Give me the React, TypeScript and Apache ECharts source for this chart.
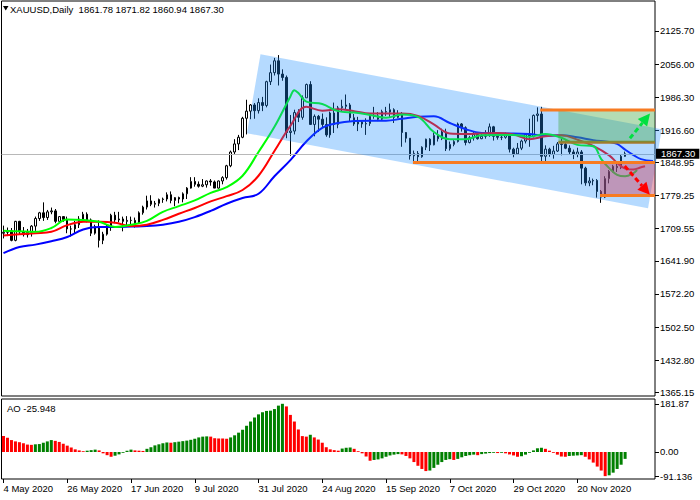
import { useEffect, useRef } from "react";
import * as echarts from "echarts";

// XAUUSD daily, 4 May 2020 .. 8 Dec 2020 (one entry per weekday)
const opens = [
  1700, 1702, 1705, 1685, 1725, 1703, 1697, 1702, 1715, 1731, 1743, 1733, 1745, 1747, 1725, 1735, 1729, 1709, 1709, 1718,
  1730, 1740, 1728, 1700, 1714, 1685, 1698, 1715, 1738, 1728, 1730, 1725, 1727, 1727, 1722, 1743, 1755, 1768, 1761, 1763,
  1771, 1772, 1781, 1769, 1775, 1772, 1783, 1795, 1809, 1803, 1799, 1802, 1810, 1808, 1795, 1810, 1817, 1842, 1871, 1888,
  1902, 1942, 1957, 1970, 1958, 1975, 1969, 2019, 2038, 2063, 2035, 2028, 1912, 1915, 1954, 1944, 1985, 2013, 1929, 1946,
  1940, 1929, 1907, 1953, 1929, 1964, 1967, 1970, 1943, 1930, 1934, 1930, 1931, 1946, 1947, 1940, 1956, 1955, 1960, 1944,
  1950, 1912, 1900, 1863, 1868, 1861, 1881, 1898, 1886, 1906, 1899, 1913, 1878, 1887, 1893, 1930, 1922, 1891, 1901, 1908,
  1899, 1904, 1907, 1924, 1904, 1902, 1902, 1907, 1877, 1867, 1879, 1894, 1908, 1903, 1948, 1951, 1862, 1877, 1866, 1873,
  1888, 1887, 1879, 1871, 1866, 1871, 1837, 1806, 1810, 1811, 1788, 1776, 1815, 1830, 1841, 1838, 1861.78,
];
const highs = [
  1716, 1712, 1711, 1726, 1726, 1713, 1709, 1717, 1735, 1745, 1765, 1749, 1754, 1751, 1736, 1736, 1735, 1716, 1726, 1736,
  1745, 1744, 1731, 1718, 1727, 1703, 1718, 1741, 1745, 1745, 1735, 1736, 1735, 1733, 1746, 1758, 1779, 1780, 1768, 1773,
  1775, 1786, 1788, 1776, 1777, 1786, 1797, 1818, 1818, 1809, 1814, 1811, 1814, 1811, 1811, 1820, 1844, 1874, 1898, 1907,
  1945, 1981, 1972, 1974, 1984, 1987, 2021, 2055, 2069, 2075, 2045, 2032, 1949, 1960, 1961, 1990, 2015, 2020, 1950, 1949,
  1952, 1944, 1956, 1975, 1968, 1981, 1992, 1974, 1951, 1945, 1937, 1942, 1952, 1966, 1955, 1960, 1966, 1973, 1963, 1959,
  1955, 1913, 1900, 1874, 1873, 1883, 1899, 1900, 1912, 1917, 1920, 1920, 1893, 1896, 1933, 1932, 1925, 1905, 1913, 1912,
  1912, 1917, 1931, 1926, 1913, 1909, 1912, 1911, 1880, 1890, 1897, 1910, 1941, 1950, 1965, 1966, 1885, 1880, 1884, 1892,
  1899, 1895, 1885, 1876, 1880, 1875, 1840, 1818, 1815, 1814, 1791, 1820, 1833, 1844, 1848, 1866, 1871.82,
];
const lows = [
  1689, 1694, 1683, 1683, 1698, 1693, 1691, 1693, 1705, 1726, 1726, 1728, 1740, 1721, 1723, 1724, 1700, 1693, 1699, 1711,
  1726, 1723, 1694, 1697, 1670, 1677, 1695, 1705, 1721, 1723, 1704, 1713, 1719, 1712, 1720, 1739, 1750, 1757, 1754, 1757,
  1764, 1767, 1763, 1757, 1763, 1765, 1772, 1794, 1798, 1796, 1797, 1796, 1800, 1795, 1794, 1803, 1813, 1839, 1866, 1875,
  1900, 1908, 1940, 1941, 1952, 1957, 1965, 2012, 2032, 2011, 2021, 1900, 1863, 1908, 1934, 1939, 1985, 1928, 1904, 1913,
  1922, 1903, 1901, 1911, 1921, 1956, 1961, 1936, 1926, 1915, 1922, 1907, 1926, 1941, 1936, 1938, 1947, 1945, 1932, 1942,
  1882, 1891, 1855, 1848, 1849, 1859, 1875, 1873, 1885, 1893, 1896, 1873, 1874, 1883, 1891, 1914, 1885, 1889, 1895, 1897,
  1898, 1899, 1903, 1895, 1897, 1896, 1899, 1870, 1860, 1866, 1875, 1889, 1882, 1902, 1935, 1850, 1850, 1861, 1857, 1871,
  1864, 1877, 1865, 1856, 1860, 1803, 1800, 1799, 1801, 1775, 1764, 1774, 1805, 1828, 1829, 1835, 1860.94,
];
const closes = [
  1702, 1705, 1685, 1725, 1703, 1697, 1702, 1715, 1731, 1743, 1733, 1745, 1747, 1725, 1735, 1729, 1709, 1709, 1718, 1730,
  1740, 1728, 1700, 1714, 1685, 1698, 1715, 1738, 1728, 1730, 1725, 1727, 1727, 1722, 1743, 1755, 1768, 1761, 1763, 1771,
  1772, 1781, 1769, 1775, 1772, 1783, 1795, 1809, 1803, 1799, 1802, 1810, 1808, 1795, 1810, 1817, 1842, 1871, 1888, 1902,
  1942, 1957, 1970, 1958, 1975, 1969, 2019, 2038, 2063, 2035, 2028, 1912, 1915, 1954, 1944, 1985, 2013, 1929, 1946, 1940,
  1929, 1907, 1953, 1929, 1964, 1967, 1970, 1943, 1930, 1934, 1930, 1931, 1946, 1947, 1940, 1956, 1955, 1960, 1944, 1950,
  1912, 1900, 1863, 1868, 1861, 1881, 1898, 1886, 1906, 1899, 1913, 1878, 1887, 1893, 1930, 1922, 1891, 1901, 1908, 1899,
  1904, 1907, 1924, 1904, 1902, 1902, 1907, 1877, 1867, 1879, 1894, 1908, 1903, 1948, 1951, 1862, 1877, 1866, 1873, 1888,
  1887, 1879, 1871, 1866, 1871, 1837, 1806, 1810, 1811, 1788, 1776, 1815, 1830, 1841, 1838, 1862, 1867.3,
];

// Alligator lines, read as [bar index, price]
const jaw = [
  [0, 1658], [4, 1671], [8, 1676], [12, 1683], [16, 1692], [20, 1708], [24, 1713], [28, 1713], [32, 1714], [36, 1715],
  [40, 1718], [44, 1724], [48, 1734], [52, 1747], [56, 1762], [60, 1774], [64, 1783], [68, 1820], [72, 1854], [76, 1893],
  [80, 1922], [84, 1932], [88, 1936], [92, 1937], [96, 1937], [100, 1941], [104, 1945], [108, 1946], [112, 1932], [116, 1919],
  [120, 1911], [124, 1910], [128, 1910], [132, 1909], [136, 1905], [140, 1906], [144, 1902], [148, 1896], [152, 1892],
  [154, 1888], [156, 1876], [158, 1865], [160, 1856], [163, 1852],
];
const teeth = [
  [0, 1695], [4, 1698], [8, 1700], [12, 1703], [16, 1717], [20, 1724], [24, 1724], [28, 1722], [32, 1715], [36, 1718],
  [40, 1728], [44, 1741], [48, 1753], [52, 1767], [56, 1778], [60, 1791], [64, 1821], [68, 1873], [72, 1926], [76, 1966],
  [80, 1958], [84, 1961], [88, 1957], [92, 1952], [96, 1952], [100, 1952], [104, 1947], [108, 1929], [112, 1910], [116, 1909],
  [120, 1910], [124, 1911], [128, 1908], [132, 1898], [136, 1904], [140, 1906], [144, 1897], [148, 1884], [152, 1864],
  [154, 1848], [156, 1836], [158, 1834], [160, 1839], [161, 1841],
];
const lips = [
  [0, 1705], [4, 1704], [8, 1703], [12, 1711], [16, 1729], [20, 1728], [24, 1724], [28, 1713], [32, 1718], [36, 1726],
  [40, 1745], [44, 1757], [48, 1769], [52, 1785], [56, 1797], [60, 1821], [64, 1871], [68, 1924], [72, 1988], [73, 2001],
  [74, 1995], [76, 1977], [80, 1972], [84, 1957], [88, 1954], [92, 1949], [96, 1943], [100, 1950], [104, 1945], [108, 1913],
  [112, 1898], [116, 1898], [120, 1906], [124, 1907], [128, 1907], [132, 1903], [136, 1909], [140, 1901], [144, 1886],
  [148, 1883], [150, 1856], [152, 1837], [154, 1823], [156, 1820], [158, 1826], [159, 1833],
];

// Awesome Oscillator, one value per bar
const ao = [
  60, 54, 45, 40, 37, 33, 28, 27, 29, 30, 35, 40, 45, 42, 38, 31, 24, 17, 10, 6,
  3, 5, 7, 9, 6, -5, -12, -18, -14, -9, -3, 5, 9, 6, 5, 4, 12, 18, 25, 29,
  33, 36, 35, 37, 39, 41, 43, 46, 50, 55, 58, 59, 58, 52, 51, 51, 50, 55, 63, 73,
  84, 99, 115, 130, 142, 150, 155, 156, 162, 175, 181.87, 172, 140, 115, 85, 60, 58, 65, 55, 47,
  35, 18, 10, 7, 5, 13, 16, 17, 12, 3, -5, -17, -33, -30, -28, -24, -18, -13, -10, -8,
  -9, -15, -24, -38, -52, -64, -72, -70, -60, -48, -38, -30, -27, -30, -26, -20, -15, -12, -10, -12,
  -8, -6, -4, -3, -4, -3, -5, -9, -13, -18, -16, -10, -3, 6, 14, 16, 12, 5, -3, -10,
  -17, -18, -15, -14, -13, -12, -18, -28, -40, -55, -70, -91.136, -88, -78, -64, -48, -25.948,
];

const priceTicks = [2125.7, 2056.0, 1986.3, 1916.6, 1848.95, 1779.25, 1709.55, 1641.9, 1572.2, 1502.5, 1432.8, 1365.15];
const aoTicks = [181.87, 0, -91.136];
const aoTickLabels = ["181.87", "0.00", "-91.136"];
const dateLabels = [
  "4 May 2020", "26 May 2020", "17 Jun 2020", "9 Jul 2020", "31 Jul 2020",
  "24 Aug 2020", "15 Sep 2020", "7 Oct 2020", "29 Oct 2020", "20 Nov 2020",
];
const lastPrice = 1867.3;

// Drawn objects, as [bar index, price]
const channel = [[64.5, 2076.6], [165.2, 1918.8], [161.75, 1752.5], [61.1, 1910.4]];
const greenBox = { from: 139.25, to: 163.5, top: 1959.4, bottom: 1891.4 };
const redBox = { from: 149.7, to: 163.5, top: 1848.95, bottom: 1779.25 };
const levels = [
  { from: 134.7, price: 1959.4 },
  { from: 102.75, price: 1848.95 },
  { from: 149.7, price: 1779.25 },
];
const greenArrow = [[157.2, 1899.8], [162.25, 1952]];
const redArrow = [[155.9, 1841.5], [162.2, 1781]];

const NBARS = 164;
const FONT = "Liberation Sans";

export default function App() {
  const ref = useRef<HTMLDivElement>(null);

  useEffect(() => {
    if (!ref.current) return;
    const chart = echarts.init(ref.current, undefined, { renderer: "svg" });
    const cats = Array.from({ length: NBARS }, (_, i) => String(i));
    const showDate = (i: number) => i % 16 === 0 && i / 16 < dateLabels.length;

    const arrow = (api: any, pts: number[][], color: string) => {
      const s = api.coord(pts[0]), t = api.coord(pts[1]);
      const dx = t[0] - s[0], dy = t[1] - s[1];
      const len = Math.hypot(dx, dy);
      const ux = dx / len, uy = dy / len;
      const bx = t[0] - ux * 12, by = t[1] - uy * 12;
      return [
        { type: "line", shape: { x1: s[0], y1: s[1], x2: bx, y2: by }, style: { stroke: color, lineWidth: 3, lineDash: [5, 3] } },
        { type: "polygon", shape: { points: [t, [bx - uy * 6, by + ux * 6], [bx + uy * 6, by - ux * 6]] }, style: { fill: color } },
      ];
    };

    const option: any = {
      animation: false,
      backgroundColor: "#fff",
      textStyle: { fontFamily: FONT },
      grid: [
        { left: 1.5, top: 1, width: 653.5, height: 395, show: true, borderColor: "#000", borderWidth: 1, backgroundColor: "#fff", outerBoundsMode: "none" },
        { left: 1.5, top: 399, width: 653.5, height: 80, show: true, borderColor: "#000", borderWidth: 1, backgroundColor: "#fff", outerBoundsMode: "none" },
      ],
      xAxis: [
        { type: "category", gridIndex: 0, data: cats, show: false },
        {
          type: "category", gridIndex: 1, data: cats,
          axisLine: { show: false, onZero: false },
          axisTick: { show: true, inside: false, interval: showDate, alignWithLabel: true, length: 4, lineStyle: { color: "#000" } },
          axisLabel: {
            interval: showDate, align: "left", margin: 4, color: "#000", fontSize: 9.5, fontFamily: FONT,
            formatter: (_: string, i: number) => dateLabels[i / 16] ?? "",
          },
        },
        { type: "value", gridIndex: 0, min: -0.5, max: NBARS - 0.5, show: false, axisLine: { onZero: false } },
      ],
      yAxis: [
        {
          type: "value", gridIndex: 0, position: "right", min: 1357.36, max: 2188.85,
          splitLine: { show: false }, axisLine: { show: false, onZero: false }, minorTick: { show: false },
          axisTick: { show: true, inside: false, customValues: priceTicks, length: 4, lineStyle: { color: "#000" } },
          axisLabel: { customValues: priceTicks, margin: 5, color: "#000", fontSize: 9.5, fontFamily: FONT, formatter: (v: number) => v.toFixed(2) },
        },
        {
          type: "value", gridIndex: 1, position: "right", min: -101.9, max: 200,
          splitLine: { show: false }, axisLine: { show: false, onZero: false }, minorTick: { show: false },
          axisTick: { show: true, inside: false, customValues: aoTicks, length: 4, lineStyle: { color: "#000" } },
          axisLabel: {
            customValues: aoTicks, margin: 5, color: "#000", fontSize: 9.5, fontFamily: FONT,
            formatter: (v: number) => aoTickLabels[aoTicks.indexOf(v)] ?? "",
          },
        },
      ],
      graphic: [
        { type: "polygon", shape: { points: [[3, 6], [8.5, 6], [5.75, 10.5]] }, style: { fill: "#000" } },
        { type: "text", x: 10, y: 9.5, style: { text: "XAUUSD,Daily  1861.78 1871.82 1860.94 1867.30", fill: "#000", font: `9.5px "${FONT}"`, verticalAlign: "middle" } },
        { type: "text", x: 7, y: 408, style: { text: "AO -25.948", fill: "#000", font: `9.5px "${FONT}"`, verticalAlign: "middle" } },
      ],
      series: [
        {
          type: "candlestick", xAxisIndex: 0, yAxisIndex: 0, barWidth: 2, z: 2,
          data: opens.map((o, i) => [o, closes[i], lows[i], highs[i]]),
          itemStyle: { color: "#fff", color0: "#000", borderColor: "#000", borderColor0: "#000", borderWidth: 1 },
          markLine: {
            silent: true, symbol: "none", animation: false,
            data: [{ yAxis: lastPrice }],
            lineStyle: { color: "#b8b8b8", width: 1, type: "solid" },
            label: {
              position: "end", distance: 1, formatter: lastPrice.toFixed(2), color: "#fff", backgroundColor: "#000",
              padding: [0, 4, 0, 5], lineHeight: 10, fontSize: 9.5, fontFamily: FONT,
            },
          },
        },
        ...[
          { data: jaw, color: "#0000ff" },
          { data: teeth, color: "#ff0000" },
          { data: lips, color: "#00ff00" },
        ].map((l) => ({
          type: "line", xAxisIndex: 2, yAxisIndex: 0, data: l.data, smooth: 0.4, showSymbol: false, z: 3,
          lineStyle: { color: l.color, width: 2 }, silent: true,
        })),
        {
          type: "custom", xAxisIndex: 2, yAxisIndex: 0, data: [[0, 1800]], z: 5, silent: true, clip: false,
          renderItem: (_: any, api: any) => {
            const c = (p: number[]) => api.coord(p);
            const box = (b: typeof greenBox) => [c([b.from, b.top]), c([b.to, b.top]), c([b.to, b.bottom]), c([b.from, b.bottom])];
            const lvl = (from: number, price: number, color: string) => {
              const a = c([from, price]), b = c([NBARS - 0.5, price]);
              return { type: "line", shape: { x1: a[0], y1: a[1], x2: b[0], y2: b[1] }, style: { stroke: color, lineWidth: 3 } };
            };
            return {
              type: "group",
              children: [
                { type: "polygon", shape: { points: channel.map(c) }, style: { fill: "rgba(30,144,255,0.33)" } },
                lvl(greenBox.from, greenBox.bottom, "#a8782c"),
                { type: "polygon", shape: { points: box(greenBox) }, style: { fill: "rgba(67,167,67,0.4)" } },
                { type: "polygon", shape: { points: box(redBox) }, style: { fill: "rgba(202,67,100,0.45)" } },
                ...levels.map((l) => lvl(l.from, l.price, "#f77b22")),
                ...arrow(api, greenArrow, "#00e040"),
                ...arrow(api, redArrow, "#ff0000"),
              ],
            };
          },
        },
        {
          type: "bar", xAxisIndex: 1, yAxisIndex: 1, barWidth: 3, silent: true,
          data: ao.map((v, i) => ({ value: v, itemStyle: { color: i > 0 && v > ao[i - 1] ? "#008000" : "#ff0000" } })),
        },
      ],
    };
    chart.setOption(option);
    return () => chart.dispose();
  }, []);

  return <div ref={ref} style={{ position: "fixed", left: 0, top: 0, width: 700, height: 500 }} />;
}
